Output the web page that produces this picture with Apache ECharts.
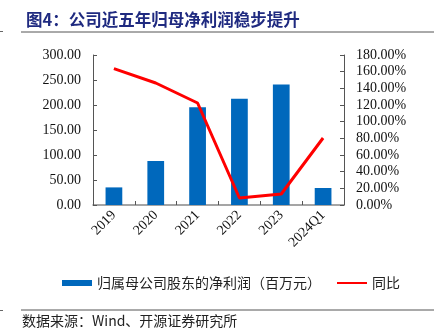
<!DOCTYPE html>
<html>
<head>
<meta charset="utf-8">
<script src="https://cdn.jsdelivr.net/npm/echarts@6/dist/echarts.min.js"></script>
<style>
  html, body { margin: 0; padding: 0; background: #fff; }
  #chart { width: 434px; height: 332px; }
</style>
</head>
<body>
<div id="chart"></div>
<script>
// Yearly net profit attributable to parent (million CNY) and YoY growth (%)
const categories = ['2019', '2020', '2021', '2022', '2023', '2024Q1'];
const netProfit = [35.2, 88.0, 195.3, 212.6, 241.0, 34.0];
const yoyGrowth = [163.6, 146.4, 122.4, 8.4, 13.2, 80.4];

const leftTicks = { min: 0, max: 300, interval: 50 };
const rightTicks = { min: 0, max: 180, interval: 20 };

const titleText = '图4：公司近五年归母净利润稳步提升';
const sourceText = '数据来源：Wind、开源证券研究所';
const barName = '归属母公司股东的净利润（百万元）';
const lineName = '同比';

const serif = '"Liberation Serif", "Times New Roman", serif';
const cjk = '"Noto Sans CJK SC", "Liberation Serif", serif';

const chart = echarts.init(document.getElementById('chart'), null, { renderer: 'canvas' });

chart.setOption({
  animation: false,
  backgroundColor: '#fff',
  title: {
    text: titleText,
    left: 21,
    top: 6,
    textStyle: { fontFamily: cjk, fontSize: 16.5, fontWeight: 'bold', color: '#1F2A80' }
  },
  graphic: [
    { type: 'line', shape: { x1: 21, y1: 32, x2: 434, y2: 32 }, style: { stroke: '#555', lineWidth: 1 } },
    { type: 'line', shape: { x1: 21, y1: 310, x2: 434, y2: 310 }, style: { stroke: '#555', lineWidth: 1 } },
    { type: 'line', shape: { x1: 0, y1: 31.5, x2: 3, y2: 31.5 }, style: { stroke: '#666', lineWidth: 1 } },
    { type: 'line', shape: { x1: 0, y1: 310.5, x2: 3, y2: 310.5 }, style: { stroke: '#666', lineWidth: 1 } },
    {
      type: 'text', left: 22, top: 314,
      style: { text: sourceText, font: '14px ' + cjk, fill: '#222' }
    }
  ],
  legend: {
    bottom: 37,
    left: 57,
    itemGap: 16,
    itemWidth: 30,
    itemHeight: 6,
    textStyle: { fontFamily: cjk, fontSize: 14, color: '#222' },
    data: [
      { name: barName, icon: 'rect' },
      { name: lineName, icon: 'path://M0,0 L30,0 L30,2 L0,2 Z' }
    ]
  },
  grid: { left: 93, right: 90, top: 55, bottom: 127 },
  xAxis: {
    type: 'category',
    data: categories,
    axisLine: { lineStyle: { color: '#888', width: 1.5 } },
    axisTick: { show: true, inside: true, length: 4, lineStyle: { color: '#555' } },
    axisLabel: { rotate: 45, margin: 8, fontFamily: serif, fontSize: 14, color: '#111' }
  },
  yAxis: [
    {
      type: 'value',
      min: leftTicks.min, max: leftTicks.max, interval: leftTicks.interval,
      axisLine: { show: true, lineStyle: { color: '#555' } },
      axisTick: { show: true, inside: true, length: 4, lineStyle: { color: '#555' } },
      splitLine: { show: false },
      axisLabel: {
        margin: 12, fontFamily: serif, fontSize: 14, color: '#111',
        formatter: v => v.toFixed(2)
      }
    },
    {
      type: 'value',
      position: 'right',
      min: rightTicks.min, max: rightTicks.max, interval: rightTicks.interval,
      axisLine: { show: true, lineStyle: { color: '#555' } },
      axisTick: { show: true, inside: true, length: 4, lineStyle: { color: '#555' } },
      splitLine: { show: false },
      axisLabel: {
        margin: 12, fontFamily: serif, fontSize: 14, color: '#111',
        formatter: v => v.toFixed(2) + '%'
      }
    }
  ],
  series: [
    {
      name: barName,
      type: 'bar',
      data: netProfit,
      barWidth: '40%',
      itemStyle: { color: '#0068BC' }
    },
    {
      name: lineName,
      type: 'line',
      yAxisIndex: 1,
      data: yoyGrowth,
      symbol: 'none',
      lineStyle: { color: '#FF0000', width: 3 },
      itemStyle: { color: '#FF0000' }
    }
  ]
});
</script>
</body>
</html>
